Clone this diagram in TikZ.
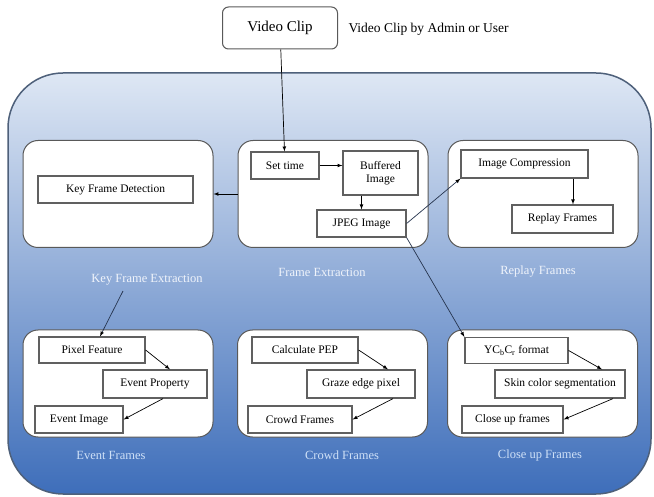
\documentclass[tikz,border=0pt]{standalone}
\usepackage{fontspec}
\setmainfont{Liberation Serif}
\usepackage{tikz}
\usetikzlibrary{positioning,arrows}

\definecolor{bgtop}{RGB}{222,231,244}
\definecolor{bgmid}{RGB}{164,189,224}
\definecolor{bgbot}{RGB}{62,110,186}
\definecolor{bgline}{RGB}{78,96,122}
\definecolor{lbltop}{RGB}{240,244,251}
\definecolor{lblbot}{RGB}{206,224,247}
\definecolor{conn}{RGB}{38,52,78}

\begin{document}
\begin{tikzpicture}[x=1pt,y=-1pt,
	box/.style={draw=gray!75!black, line width=1.2pt, fill=white, inner sep=1pt, font=\fontsize{11.5}{13.5}\selectfont},
	panel/.style={draw=gray!70!black, line width=1pt, fill=white, rounded corners=15pt, minimum width=190pt, minimum height=107pt},
	caption/.style={font=\fontsize{12.5}{14}\selectfont},
	link/.style={line width=0.7pt, black, every edge/.append style={-latex}}
	]
		\useasboundingbox (0,0) rectangle (654,497);
		\node[draw=bgline, line width=1.5pt, rounded corners=55pt, top color=bgtop, middle color=bgmid, bottom color=bgbot, minimum width=643pt, minimum height=421pt] (bg) at (329.5,283.5) {};
		%
		\node[draw=gray!70!black, line width=1pt, rounded corners=6pt, fill=white, minimum width=115pt, minimum height=42pt, font=\fontsize{15}{16}\selectfont] (vc) at (280,28) {Video Clip};
		\node[anchor=west, font=\fontsize{13.5}{15}\selectfont] (vcby) at (345,29) {Video Clip by Admin or User};
		%
		\node[panel] (kfp) at (118,194) {};
		\node[panel] (fep) at (333,194) {};
		\node[panel] (rfp) at (543,194) {};
		\node[panel] (evp) at (118,383.5) {};
		\node[panel] (crp) at (332.5,383.5) {};
		\node[panel] (cup) at (542.5,383.5) {};
		%
		\node[caption, text=lbltop] (kfl) at (147,280) {Key Frame Extraction};
		\node[caption, text=lbltop] (fel) at (322,272) {Frame Extraction};
		\node[caption, text=lbltop] (rfl) at (538,272) {Replay Frames};
		\node[caption, text=lblbot] (evl) at (111,455) {Event Frames};
		\node[caption, text=lblbot] (crl) at (342,455) {Crowd Frames};
		\node[caption, text=lblbot] (cul) at (540,455) {Close up Frames};
		%
		\node[box, minimum width=155pt, minimum height=27pt] (kfd) at (115.5,189.5) {Key Frame Detection};
		\node[box, minimum width=68pt, minimum height=27pt] (st) at (285,165.5) {Set time};
		\node[box, minimum width=75pt, minimum height=44pt, align=center] (bi) at (380.5,173) {Buffered\\Image};
		\node[box, minimum width=89pt, minimum height=27pt] (jp) at (361.5,223.5) {JPEG Image};
		\node[box, minimum width=127pt, minimum height=28pt] (ic) at (524.5,164) {Image Compression};
		\node[box, minimum width=101pt, minimum height=28pt] (rf) at (562.5,219) {Replay Frames};
		%
		\node[box, minimum width=106pt, minimum height=26pt] (px) at (92,350) {Pixel Feature};
		\node[box, minimum width=104pt, minimum height=28pt] (ep) at (155,384) {Event Property};
		\node[box, minimum width=88pt, minimum height=27pt] (ei) at (79,419.5) {Event Image};
		\node[box, minimum width=106pt, minimum height=26pt] (cp) at (305,350) {Calculate PEP};
		\node[box, minimum width=108pt, minimum height=28pt] (ge) at (361,384) {Graze edge pixel};
		\node[box, minimum width=104pt, minimum height=27pt] (ce) at (300,419.5) {Crowd Frames};
		\node[box, minimum width=103pt, minimum height=26pt] (yc) at (516.5,350.5) {YC\textsubscript{b}C\textsubscript{r} format};
		\node[box, minimum width=130pt, minimum height=28pt] (sk) at (560,384) {Skin color segmentation};
		\node[box, minimum width=101pt, minimum height=27pt] (cu) at (512.5,419.5) {Close up frames};
		%
		\draw[link]
			%Frame extraction
			(vc) edge (st)
			(st.east) edge (st.east -| bi.west)
			(bi.south -| jp.north) edge (jp.north)
			(fep) edge (kfp)
			([xshift=10.5pt]rf.north |- ic.south) edge ([xshift=10.5pt]rf.north)
			
			%Bottom panels
			(px.east) edge ([xshift=15pt]ep.north)
			([xshift=8pt]ep.south) edge (ei.east)
			(cp.east) edge ([xshift=27pt]ge.north)
			([xshift=32pt]ge.south) edge (ce.east)
			(yc.east) edge ([xshift=42pt]sk.north)
			([xshift=53pt]sk.south) edge (cu.east)
		;
		\draw[link, draw=conn]
			%Long connectors
			(jp.east) edge (ic.south west)
			(jp.south east) edge (yc.north west)
			([shift={(-24pt,-2pt)}]kfl.south) edge ([xshift=8pt]px.north)
		;
		
	\end{tikzpicture}
\end{document}
